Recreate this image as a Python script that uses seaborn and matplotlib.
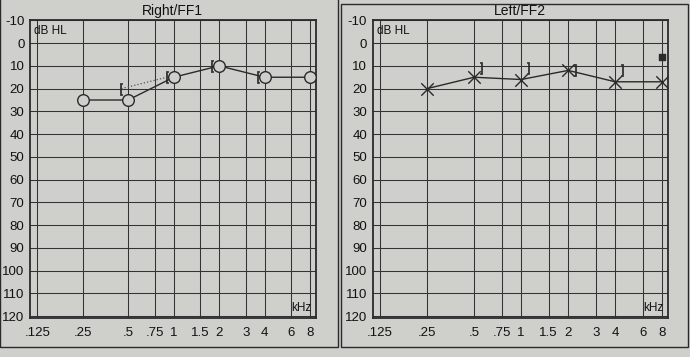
import matplotlib
matplotlib.use("Agg")
import matplotlib.pyplot as plt
import seaborn as sns
import pandas as pd
from matplotlib.patches import Rectangle

sns.set_theme(style="white")
plt.rcParams['font.family'] = ['Liberation Sans', 'DejaVu Sans']

# ---- data ----
freq_ticks = [0.125, 0.25, 0.5, 0.75, 1, 1.5, 2, 3, 4, 6, 8]
freq_labels = [".125", ".25", ".5", ".75", "1", "1.5", "2", "3", "4", "6", "8"]
db_ticks = [-10, 0, 10, 20, 30, 40, 50, 60, 70, 80, 90, 100, 110, 120]

right_freq = [0.25, 0.5, 1, 2, 4, 8]
right_air = [25, 25, 15, 10, 15, 15]
right_bone_freq = [0.5, 1, 2, 4]
right_bone = [20, 15, 10, 15]

left_freq = [0.25, 0.5, 1, 2, 4, 8]
left_air = [20, 15, 16, 12, 17, 17]
left_bone_freq = [0.5, 1, 2, 4]
left_bone = [11, 11, 12, 12]
left_extra_freq = [8]
left_extra = [6]

bg = "#cfcfcb"
ink = "#2a2a2a"

fig = plt.figure(figsize=(6.9, 3.57), dpi=100, facecolor=bg)

# outer frames of the two panels
fig.patches.append(Rectangle((0.0, 0.028), 0.490, 0.98, transform=fig.transFigure,
                             fill=False, edgecolor=ink, lw=1.0))
fig.patches.append(Rectangle((0.494, 0.028), 0.503, 0.96, transform=fig.transFigure,
                             fill=False, edgecolor=ink, lw=1.0))

ax1 = fig.add_axes([0.0435, 0.108, 0.414, 0.835])
ax2 = fig.add_axes([0.540, 0.108, 0.428, 0.835])


def style(ax, title):
    ax.set_facecolor(bg)
    ax.set_xscale("log")
    ax.set_xlim(0.112, 8.7)
    ax.set_ylim(121, -10)
    ax.set_xticks(freq_ticks)
    ax.set_xticklabels(freq_labels)
    ax.minorticks_off()
    ax.set_yticks(db_ticks)
    ax.set_yticklabels([str(v) for v in db_ticks])
    ax.tick_params(axis="x", length=0, labelsize=9.5, colors="#111111", pad=6)
    ax.tick_params(axis="y", length=0, labelsize=9.5, colors="#111111", pad=4)
    ax.grid(True, color="#333333", lw=0.75)
    for s in ax.spines.values():
        s.set_color(ink)
        s.set_linewidth(1.3)
    ax.set_title(title, fontsize=10, color="#111111", pad=4)
    ax.text(0.015, 0.985, "dB HL", transform=ax.transAxes, ha="left", va="top",
            fontsize=8.5, color="#111111")
    ax.text(0.985, 0.015, "kHz", transform=ax.transAxes, ha="right", va="bottom",
            fontsize=8.5, color="#111111")


# ---- Right ear ----
style(ax1, "Right/FF1")
dr = pd.DataFrame({"f": right_freq, "db": right_air})
sns.lineplot(data=dr, x="f", y="db", ax=ax1, color=ink, lw=1.0, sort=False)
ax1.scatter(right_freq, right_air, s=70, marker="o", facecolors=bg,
            edgecolors=ink, linewidths=1.0, zorder=5)
bx = [f * 0.9 for f in right_bone_freq]
sns.lineplot(x=bx[:2], y=right_bone[:2], ax=ax1, color="#555555", lw=0.9,
             linestyle=":")
ax1.scatter(bx, right_bone, s=80, marker="$[$", color=ink, zorder=6, linewidths=0.5)

# ---- Left ear ----
style(ax2, "Left/FF2")
dl = pd.DataFrame({"f": left_freq, "db": left_air})
sns.lineplot(data=dl, x="f", y="db", ax=ax2, color=ink, lw=1.0, sort=False)
ax2.scatter(left_freq, left_air, s=80, marker="x", color=ink, linewidths=1.0,
            zorder=5)
lbx = [f * 1.1 for f in left_bone_freq]
ax2.scatter(lbx, left_bone, s=80, marker="$]$", color=ink, zorder=6, linewidths=0.5)
ax2.scatter(left_extra_freq, left_extra, s=14, marker="s", color=ink, zorder=6)

for ax in (ax1, ax2):
    ax.set_xlabel("")
    ax.set_ylabel("")

fig.savefig("out.png", dpi=100, facecolor=bg)
